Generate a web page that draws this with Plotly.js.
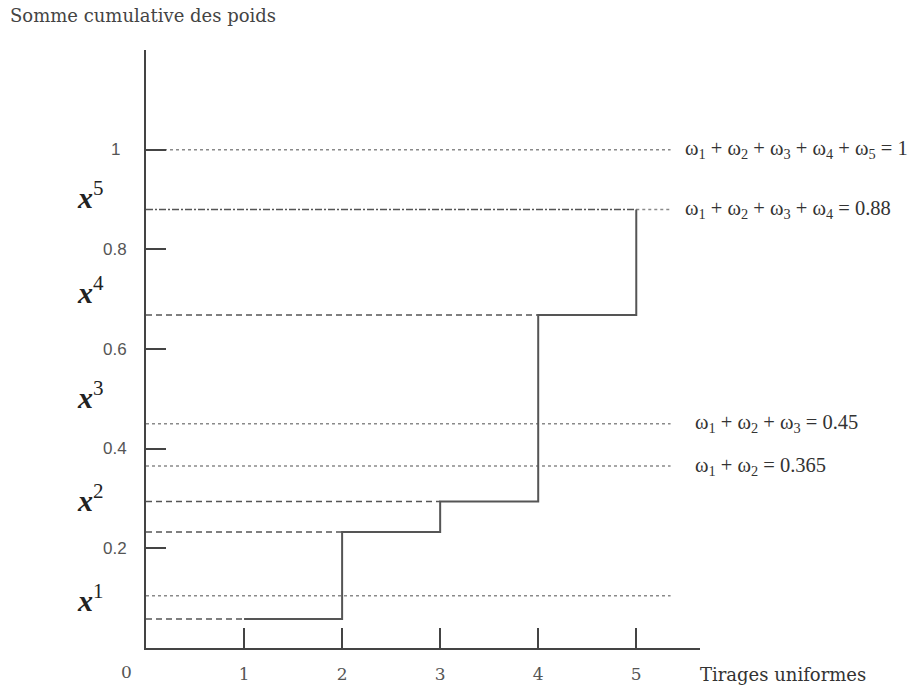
<!DOCTYPE html>
<html>
<head>
<meta charset="utf-8">
<script src="https://cdn.plot.ly/plotly-3.0.1.min.js"></script>
<style>html,body{margin:0;padding:0;background:#fff;}#chart{width:912px;height:691px;}</style>
</head>
<body>
<div id="chart"></div>
<script>
// ---- data ----
const drawX = [1, 2, 3, 4, 5];                       // uniform draws
const drawLevels = [0.058, 0.233, 0.294, 0.668, 0.88]; // step levels
const cumLevels = [0.105, 0.365, 0.45, 0.88, 1];       // cumulative weights
const cumLabels = [
  'ω<sub>1</sub> = 0.105',
  'ω<sub>1</sub> + ω<sub>2</sub> = 0.365',
  'ω<sub>1</sub> + ω<sub>2</sub> + ω<sub>3</sub> = 0.45',
  'ω<sub>1</sub> + ω<sub>2</sub> + ω<sub>3</sub> + ω<sub>4</sub> = 0.88',
  'ω<sub>1</sub> + ω<sub>2</sub> + ω<sub>3</sub> + ω<sub>4</sub> + ω<sub>5</sub> = 1'
];
const particleNames = ['x', 'x', 'x', 'x', 'x'];
const particleIdx = ['1', '2', '3', '4', '5'];
const particleY = [0.092, 0.293, 0.5, 0.711, 0.902];
const xTickVals = [1, 2, 3, 4, 5];
const xTickText = ['1', '2', '3', '4', '5'];
const yTickVals = [0.2, 0.4, 0.6, 0.8, 1];
const yTickText = ['0.2', '0.4', '0.6', '0.8', '1'];

// ---- styles ----
const stepColor = '#555';
const refColor = '#8a8a8a';
const textColor = '#333';
const refEnd = 5.35;

const traces = [];
// dotted reference lines (cumulative weights)
cumLevels.forEach((v, i) => {
  const x0 = (i === 3) ? drawX[4] : 0;
  traces.push({x: [x0, refEnd], y: [v, v], mode: 'lines', type: 'scatter',
    line: {color: refColor, width: 1.5, dash: 'dot'}, hoverinfo: 'skip', showlegend: false});
});
// dashed projections of each step level to the y axis
drawLevels.forEach((v, i) => {
  traces.push({x: [0, drawX[i]], y: [v, v], mode: 'lines', type: 'scatter',
    line: {color: stepColor, width: 1.5, dash: i === 4 ? '7px,2px,2px,2px' : '6px,4px'}, hoverinfo: 'skip', showlegend: false});
});
// staircase
traces.push({x: drawX, y: drawLevels, mode: 'lines', type: 'scatter',
  line: {color: stepColor, width: 2, shape: 'hv'}, hoverinfo: 'skip', showlegend: false});

const serif = 'DejaVu Serif, serif';
const annotations = [];
cumLabels.forEach((t, i) => {
  const xs = [5.67, 5.58, 5.58, 5.48, 5.48];
  annotations.push({x: xs[i], y: cumLevels[i], xref: 'x', yref: 'y', text: t, showarrow: false,
    xanchor: 'left', yanchor: 'middle', font: {family: 'Liberation Serif, serif', size: 20.5, color: textColor}});
});
particleNames.forEach((t, i) => {
  annotations.push({x: 0, y: particleY[i], xref: 'x', yref: 'y', xshift: -56, yshift: 4,
    text: '<b><i>' + t + '</i></b><sup>' + particleIdx[i] + '</sup>',
    showarrow: false, xanchor: 'center', yanchor: 'middle', font: {family: 'Liberation Serif, serif', size: 30, color: '#222'}});
});
yTickVals.forEach((v, i) => {
  annotations.push({x: 0, y: v, xref: 'x', yref: 'y', xshift: -31, text: yTickText[i], showarrow: false,
    xanchor: 'center', yanchor: 'middle', font: {family: 'Liberation Sans, sans-serif', size: 17, color: '#555'}});
});
annotations.push({x: 0, y: 0, xref: 'x', yref: 'y', xshift: -20, yshift: -24, text: '0', showarrow: false,
  xanchor: 'center', yanchor: 'middle', font: {family: serif, size: 17, color: '#555'}});
annotations.push({x: 5.63, y: 0, xref: 'x', yref: 'y', yshift: -26, text: 'Tirages uniformes', showarrow: false,
  xanchor: 'left', yanchor: 'middle', font: {family: serif, size: 18, color: textColor}});

const layout = {
  width: 912, height: 691,
  margin: {l: 146, r: 212, t: 50, b: 43},
  paper_bgcolor: '#fff', plot_bgcolor: '#fff',
  title: {text: 'Somme cumulative des poids', x: 10 / 912, xanchor: 'left', xref: 'container',
    y: 1 - 16 / 691, yanchor: 'middle', yref: 'container', font: {family: serif, size: 18, color: '#444'}},
  xaxis: {range: [0, 5.65], showgrid: false, zeroline: false, showline: true, linecolor: '#444', linewidth: 2,
    ticks: 'inside', ticklen: 20, tickwidth: 2, tickcolor: '#444', tickvals: xTickVals, ticktext: xTickText,
    ticklabelstandoff: 10, tickfont: {family: serif, size: 17, color: '#555'}, fixedrange: true},
  yaxis: {range: [0, 1.2], showgrid: false, zeroline: false, showline: true, linecolor: '#444', linewidth: 2,
    ticks: 'inside', ticklen: 20, tickwidth: 2, tickcolor: '#444', tickvals: yTickVals,
    showticklabels: false, fixedrange: true},
  annotations: annotations,
  showlegend: false
};

Plotly.newPlot('chart', traces, layout, {displayModeBar: false, staticPlot: true});
</script>
</body>
</html>
